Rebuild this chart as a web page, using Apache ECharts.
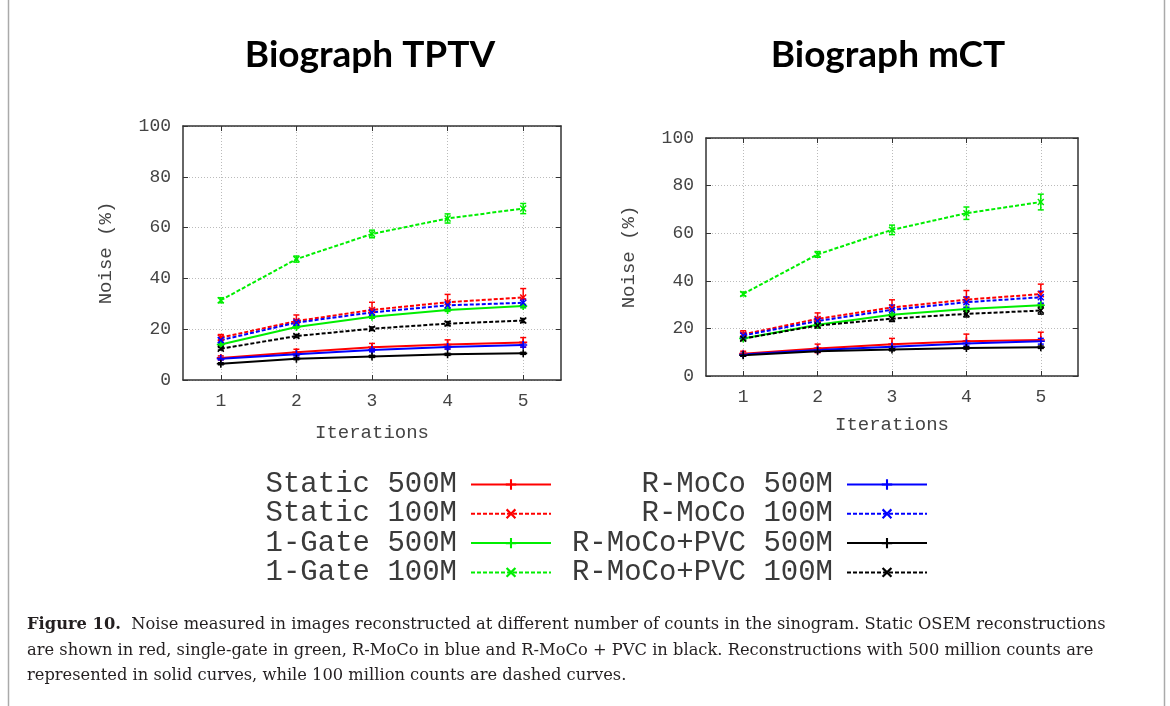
<!DOCTYPE html>
<html><head><meta charset="utf-8">
<script src="https://cdn.jsdelivr.net/npm/echarts@6/dist/echarts.min.js"></script>
<style>html,body{margin:0;padding:0;background:#fff}#c{width:1170px;height:706px}</style>
</head><body><div id="c"></div>
<script>
// ---------- data ----------
const iterations = [1, 2, 3, 4, 5];
const panelTitles = ['Biograph TPTV', 'Biograph mCT'];
const seriesNames = ['Static 500M', 'Static 100M', '1-Gate 500M', '1-Gate 100M',
                     'R-MoCo 500M', 'R-MoCo 100M', 'R-MoCo+PVC 500M', 'R-MoCo+PVC 100M'];
const seriesColors = ['#ff0000', '#ff0000', '#00ee00', '#00ee00', '#0000ff', '#0000ff', '#000000', '#000000'];
const seriesDashed = [false, true, false, true, false, true, false, true];

// Biograph TPTV (noise %)
const tptvStatic500 = [8.7, 10.9, 12.9, 14.0, 14.8];
const tptvStatic100 = [16.7, 23.2, 27.6, 30.6, 32.5];
const tptvGate500   = [14.0, 20.9, 24.9, 27.6, 29.1];
const tptvGate100   = [31.4, 47.6, 57.5, 63.6, 67.5];
const tptvMoco500   = [8.4, 10.1, 11.8, 13.0, 13.8];
const tptvMoco100   = [15.7, 22.6, 26.6, 29.4, 30.4];
const tptvPvc500    = [6.4, 8.4, 9.3, 10.1, 10.5];
const tptvPvc100    = [12.3, 17.3, 20.2, 22.2, 23.4];
// TPTV error half-widths
const tptvStatic500Err = [0.8, 1.2, 1.5, 1.8, 1.9];
const tptvStatic100Err = [1.2, 2.4, 3.0, 3.1, 3.5];
const tptvGate500Err   = [0.5, 0.5, 0.6, 0.6, 0.7];
const tptvGate100Err   = [1.0, 1.2, 1.5, 1.8, 2.0];
const tptvMoco500Err   = [0.5, 0.6, 0.7, 0.8, 0.8];
const tptvMoco100Err   = [1.0, 1.2, 1.3, 1.5, 1.5];
const tptvPvc500Err    = [0.4, 0.4, 0.4, 0.4, 0.4];
const tptvPvc100Err    = [0.5, 0.6, 0.7, 0.8, 0.8];

// Biograph mCT (noise %)
const mctStatic500 = [9.4, 11.6, 13.3, 14.6, 15.1];
const mctStatic100 = [17.5, 24.0, 28.8, 32.1, 34.4];
const mctGate500   = [15.8, 21.5, 25.7, 28.2, 29.7];
const mctGate100   = [34.5, 51.1, 61.4, 68.4, 73.1];
const mctMoco500   = [9.0, 10.9, 12.3, 13.7, 14.6];
const mctMoco100   = [17.0, 23.1, 27.8, 31.0, 33.1];
const mctPvc500    = [8.7, 10.4, 11.1, 11.8, 12.1];
const mctPvc100    = [15.7, 21.2, 24.1, 26.1, 27.5];
// mCT error half-widths
const mctStatic500Err = [1.0, 1.8, 2.5, 3.0, 3.3];
const mctStatic100Err = [1.5, 2.5, 3.2, 3.8, 4.2];
const mctGate500Err   = [0.6, 0.6, 0.6, 0.7, 0.7];
const mctGate100Err   = [0.8, 1.2, 2.0, 2.6, 3.3];
const mctMoco500Err   = [0.6, 0.8, 1.0, 1.1, 1.2];
const mctMoco100Err   = [1.0, 1.5, 2.0, 2.2, 2.5];
const mctPvc500Err    = [0.4, 0.4, 0.5, 0.5, 0.5];
const mctPvc100Err    = [0.8, 1.0, 1.2, 1.3, 1.5];

const yTickValues = [0, 20, 40, 60, 80, 100];
const xAxisTitle = 'Iterations';
const yAxisTitle = 'Noise (%)';
const captionLines = [
  'Noise measured in images reconstructed at different number of counts in the sinogram. Static OSEM reconstructions',
  'are shown in red, single-gate in green, R-MoCo in blue and R-MoCo + PVC in black. Reconstructions with 500 million counts are',
  'represented in solid curves, while 100 million counts are dashed curves.'
];

// ---------- chart ----------
const panelValues = [
  [tptvStatic500, tptvStatic100, tptvGate500, tptvGate100, tptvMoco500, tptvMoco100, tptvPvc500, tptvPvc100],
  [mctStatic500, mctStatic100, mctGate500, mctGate100, mctMoco500, mctMoco100, mctPvc500, mctPvc100]
];
const panelErrors = [
  [tptvStatic500Err, tptvStatic100Err, tptvGate500Err, tptvGate100Err, tptvMoco500Err, tptvMoco100Err, tptvPvc500Err, tptvPvc100Err],
  [mctStatic500Err, mctStatic100Err, mctGate500Err, mctGate100Err, mctMoco500Err, mctMoco100Err, mctPvc500Err, mctPvc100Err]
];

const PLUS = 'path://M4,0h2v4h4v2h-4v4h-2v-4h-4v-2h4z';
const CROSS = 'path://M0,1.5L1.5,0L5,3.5L8.5,0L10,1.5L6.5,5L10,8.5L8.5,10L5,6.5L1.5,10L0,8.5L3.5,5z';

const MONO = '"Liberation Mono", "DejaVu Sans Mono", monospace';
const SERIF = '"DejaVu Serif", "Liberation Serif", serif';
const grids = [
  { left: 183, right: 609, top: 126, bottom: 326 },
  { left: 706, right: 92, top: 138, bottom: 330 }
];
const xNameGap = [43, 39];

const xAxes = [], yAxes = [], series = [];
grids.forEach((g, p) => {
  const bx = {
    gridIndex: p, type: 'value', min: 0.5, max: 5.5,
    axisLine: { show: true, onZero: false, lineStyle: { color: '#333', width: 1.5 } },
    axisTick: { show: true, inside: true, length: 5, customValues: iterations, lineStyle: { color: '#333' } },
    splitLine: { show: true, lineStyle: { color: '#bbb', type: [1, 2], width: 1 } }
  };
  xAxes.push(Object.assign({}, bx, {
    position: 'bottom',
    name: xAxisTitle, nameLocation: 'middle', nameGap: xNameGap[p],
    nameTextStyle: { fontFamily: MONO, fontSize: 19, color: '#444' },
    axisLabel: { customValues: iterations, margin: 12, fontFamily: MONO, fontSize: 18, color: '#444' }
  }));
  xAxes.push(Object.assign({}, bx, {
    position: 'top', axisLabel: { show: false }, splitLine: { show: false }
  }));
  const by = {
    gridIndex: p, type: 'value', min: 0, max: 100, interval: 20,
    axisLine: { show: true, onZero: false, lineStyle: { color: '#333', width: 1.5 } },
    axisTick: { show: true, inside: true, length: 5, lineStyle: { color: '#333' } },
    splitLine: { show: true, lineStyle: { color: '#bbb', type: [1, 2], width: 1 } }
  };
  yAxes.push(Object.assign({}, by, {
    position: 'left',
    name: yAxisTitle, nameLocation: 'middle', nameGap: 68, nameRotate: 90,
    nameTextStyle: { fontFamily: MONO, fontSize: 19, color: '#444' },
    axisLabel: { margin: 12, fontFamily: MONO, fontSize: 18, color: '#444' }
  }));
  yAxes.push(Object.assign({}, by, {
    position: 'right', axisLabel: { show: false }, splitLine: { show: false }
  }));

  seriesNames.forEach((name, s) => {
    const vals = panelValues[p][s];
    const errs = panelErrors[p][s];
    const color = seriesColors[s];
    series.push({
      type: 'custom', xAxisIndex: p * 2, yAxisIndex: p * 2, silent: true, z: 2,
      data: iterations.map((x, i) => [x, vals[i] - errs[i], vals[i] + errs[i]]),
      encode: { x: 0, y: [1, 2] },
      renderItem(params, api) {
        const x = api.value(0);
        const lo = api.coord([x, api.value(1)]);
        const hi = api.coord([x, api.value(2)]);
        const st = { stroke: color, lineWidth: 1.5 };
        return { type: 'group', children: [
          { type: 'line', shape: { x1: lo[0], y1: lo[1], x2: hi[0], y2: hi[1] }, style: st },
          { type: 'line', shape: { x1: lo[0] - 3, y1: lo[1], x2: lo[0] + 3, y2: lo[1] }, style: st },
          { type: 'line', shape: { x1: hi[0] - 3, y1: hi[1], x2: hi[0] + 3, y2: hi[1] }, style: st }
        ] };
      }
    });
    series.push({
      name, type: 'line', xAxisIndex: p * 2, yAxisIndex: p * 2, z: 3,
      data: iterations.map((x, i) => [x, vals[i]]),
      symbol: seriesDashed[s] ? CROSS : PLUS,
      symbolSize: seriesDashed[s] ? 7 : 8,
      showAllSymbol: true,
      itemStyle: { color },
      lineStyle: { color, width: 2, type: seriesDashed[s] ? [4, 2] : 'solid' },
      emphasis: { disabled: true },
      animation: false
    });
  });
});

const legendCommon = {
  orient: 'vertical', align: 'right', padding: 0, itemGap: 0.3,
  itemWidth: 80, itemHeight: 13, selectedMode: false,
  textStyle: { fontFamily: MONO, fontSize: 29, lineHeight: 29, color: '#3a3a3a', padding: [0, 9, 0, 0] }
};

const chart = echarts.init(document.getElementById('c'), null, { renderer: 'canvas' });
chart.setOption({
  animation: false,
  backgroundColor: '#fff',
  title: [
    { text: panelTitles[0], left: 365, top: 32, textAlign: 'center',
      textStyle: { fontFamily: 'Lato', fontWeight: 'bold', fontSize: 37, color: '#000' } },
    { text: panelTitles[1], left: 883, top: 32, textAlign: 'center',
      textStyle: { fontFamily: 'Lato', fontWeight: 'bold', fontSize: 37, color: '#000' } }
  ],
  grid: grids,
  xAxis: xAxes,
  yAxis: yAxes,
  legend: [
    Object.assign({}, legendCommon, { data: seriesNames.slice(0, 4), right: 618, top: 470 }),
    Object.assign({}, legendCommon, { data: seriesNames.slice(4), right: 242, top: 470 })
  ],
  series,
  graphic: [
    { type: 'line', shape: { x1: 8.5, y1: 0, x2: 8.5, y2: 706 }, style: { stroke: '#aaa', lineWidth: 1.5 } },
    { type: 'line', shape: { x1: 1164.5, y1: 0, x2: 1164.5, y2: 706 }, style: { stroke: '#aaa', lineWidth: 1.5 } },
    { type: 'text', left: 27, top: 617, style: {
        text: '{b|Figure 10.}  ' + captionLines[0],
        font: '16.3px ' + SERIF, fill: '#231f20',
        rich: { b: { fontFamily: SERIF, fontWeight: 'bold', fontSize: 16.3, fill: '#231f20' } } } },
    { type: 'text', left: 27, top: 643, style: { text: captionLines[1], font: '16.3px ' + SERIF, fill: '#231f20' } },
    { type: 'text', left: 27, top: 668, style: { text: captionLines[2], font: '16.3px ' + SERIF, fill: '#231f20' } }
  ]
});
</script>
</body></html>
